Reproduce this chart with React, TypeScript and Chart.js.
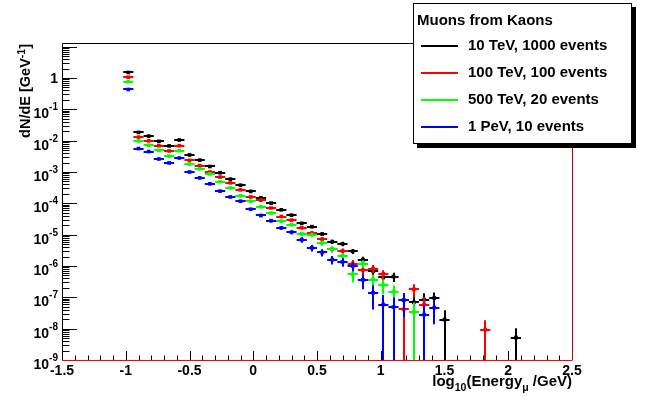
import React, { useEffect, useRef } from "react";
import { Chart, registerables } from "chart.js";

Chart.register(...registerables);

// ---------- data ----------
const binCenters = [
  -0.98, -0.9, -0.82, -0.74, -0.66, -0.58, -0.5, -0.42, -0.34, -0.26,
  -0.18, -0.1, -0.02, 0.06, 0.14, 0.22, 0.3, 0.38, 0.46, 0.54,
  0.62, 0.7, 0.78, 0.86, 0.94, 1.02, 1.1, 1.18, 1.26, 1.34,
  1.42, 1.5, 1.58, 1.66, 1.74, 1.82, 1.9, 1.98, 2.06,
];
const halfBinWidth = 0.04;

const tev10 = [
  1.5, 1.84e-2, 1.4e-2, 9.5e-3, 6.8e-3, 1.05e-2, 3.5e-3, 2.4e-3, 1.5e-3, 9.5e-4,
  5.9e-4, 3.8e-4, 2.4e-4, 1.5e-4, 1.02e-4, 6.2e-5, 4.2e-5, 2.3e-5, 1.8e-5, 1.05e-5,
  6.0e-6, 5.1e-6, 2.95e-6, 1.6e-6, 6.8e-7, 4.3e-7, 4.6e-7, 8.1e-8, 6.9e-8, 8.5e-8,
  9.5e-8, 1.95e-8, null, null, null, null, null, null, 5.2e-9,
];
const tev100 = [
  1.05, 1.3e-2, 9.9e-3, 6.9e-3, 4.7e-3, 6.9e-3, 2.35e-3, 1.6e-3, 1.0e-3, 6.9e-4,
  4.5e-4, 2.7e-4, 1.6e-4, 1.26e-4, 7.1e-5, 3.8e-5, 2.9e-5, 1.66e-5, 1.12e-5, 7.2e-6,
  3.4e-6, 3.0e-6, 1.2e-6, 7.4e-7, 8.3e-7, 5.6e-7, null, 4.1e-8, 1.8e-7, 5.9e-8,
  null, null, null, null, null, 9.3e-9, null, null, null,
];
const tev500 = [
  0.76, 9.8e-3, 7.2e-3, 4.9e-3, 3.2e-3, 4.8e-3, 1.8e-3, 1.26e-3, 8.7e-4, 4.9e-4,
  3.1e-4, 1.74e-4, 1.17e-4, 7.8e-5, 4.9e-5, 2.7e-5, 2.1e-5, 1.07e-5, 1.0e-5, 5.4e-6,
  3.5e-6, 2.1e-6, 5.4e-7, 1.2e-6, 3.7e-7, 2.5e-7, 1.5e-7, null, 3.4e-8, null,
  null, null, null, null, null, null, null, null, null,
];
const pev1 = [
  0.43, 5.6e-3, 4.5e-3, 2.6e-3, 1.95e-3, 2.8e-3, 1.0e-3, 6.5e-4, 4.2e-4, 2.45e-4,
  1.6e-4, 1.17e-4, 6.5e-5, 4.1e-5, 2.8e-5, 1.66e-5, 1.2e-5, 6.9e-6, 3.8e-6, 2.7e-6,
  1.6e-6, 1.35e-6, 1.0e-6, 3.6e-7, 1.4e-7, 5.9e-8, 4.9e-8, 8.1e-8, null, 2.8e-8,
  4.7e-8, null, null, null, null, null, null, null, null,
];

// weight of one entry (log10) at log10(E)=0
const entryWeightLog10At0 = -6.21;

const seriesLabels = [
  "10 TeV, 1000 events",
  "100 TeV, 100 events",
  "500 TeV, 20 events",
  "1 PeV, 10 events",
];
const seriesColors = ["#000000", "#ff0000", "#00ff00", "#0000ff"];
const seriesValues = [tev10, tev100, tev500, pev1];
const legendTitle = "Muons from Kaons";

const xTickValues = [-1.5, -1, -0.5, 0, 0.5, 1, 1.5, 2, 2.5];
const xTickLabels = ["-1.5", "-1", "-0.5", "0", "0.5", "1", "1.5", "2", "2.5"];
const yTickExponents = [0, -1, -2, -3, -4, -5, -6, -7, -8, -9];

const FONT = '"Liberation Sans", Arial, Helvetica, sans-serif';
const f = (s: number) => `bold ${s}px ${FONT}`;

function errorOf(x: number, v: number) {
  const w = Math.pow(10, entryWeightLog10At0 - x);
  const n = Math.max(1, Math.round(v / w));
  return v / Math.sqrt(n);
}

const rootPlugin = {
  id: "rootStyle",
  beforeDraw(chart: any) {
    const { ctx, width, height } = chart;
    ctx.save();
    ctx.fillStyle = "#fff";
    ctx.fillRect(0, 0, width, height);
    ctx.restore();
  },
  beforeDatasetsDraw(chart: any) {
    const { ctx, chartArea: a, scales } = chart;
    const xs = scales.x;
    const ys = scales.y;
    ctx.save();
    ctx.strokeStyle = "#000";
    ctx.lineWidth = 1;
    ctx.beginPath();
    ctx.moveTo(a.left + 0.5, a.bottom + 0.5);
    ctx.lineTo(a.left + 0.5, a.top + 0.5);
    ctx.lineTo(a.right + 0.5, a.top + 0.5);
    ctx.stroke();
    // x ticks (inside, upward)
    ctx.beginPath();
    for (let i = -15; i <= 25; i++) {
      const v = i / 10;
      const px = Math.round(xs.getPixelForValue(v)) + 0.5;
      const len = i % 5 === 0 ? 9 : 4.5;
      ctx.moveTo(px, a.bottom);
      ctx.lineTo(px, a.bottom - len);
    }
    // y ticks (inside, rightward)
    for (let e = -9; e <= 1; e++) {
      for (let m = 1; m <= 9; m++) {
        const v = m * Math.pow(10, e);
        if (v > ys.max * 1.0001 || v < ys.min * 0.9999) continue;
        const py = Math.round(ys.getPixelForValue(v)) + 0.5;
        const len = m === 1 ? 15 : 7.5;
        ctx.moveTo(a.left, py);
        ctx.lineTo(a.left + len, py);
      }
    }
    ctx.stroke();
    ctx.restore();
  },
  beforeDatasetDraw(chart: any, args: any) {
    const { ctx, chartArea: a, scales } = chart;
    const xs = scales.x;
    const ys = scales.y;
    const ds = chart.data.datasets[args.index];
    ctx.save();
    ctx.strokeStyle = ds.borderColor;
    ctx.lineWidth = 2;
    ctx.beginPath();
    for (const p of ds.data) {
      const px = Math.round(xs.getPixelForValue(p.x));
      const py = Math.round(ys.getPixelForValue(p.y));
      const x0 = xs.getPixelForValue(p.x - halfBinWidth);
      const x1 = xs.getPixelForValue(p.x + halfBinWidth);
      ctx.moveTo(x0, py);
      ctx.lineTo(x1, py);
      const err = errorOf(p.x, p.y);
      const hi = ys.getPixelForValue(p.y + err);
      const lowV = p.y - err;
      const lo = lowV > ys.min ? ys.getPixelForValue(lowV) : a.bottom;
      ctx.moveTo(px, Math.max(hi, a.top));
      ctx.lineTo(px, Math.min(lo, a.bottom));
    }
    ctx.stroke();
    ctx.restore();
  },
  afterDatasetsDraw(chart: any) {
    const { ctx, chartArea: a } = chart;
    ctx.save();
    ctx.strokeStyle = "#ff0000";
    ctx.lineWidth = 1;
    ctx.beginPath();
    ctx.moveTo(a.left, a.bottom + 0.5);
    ctx.lineTo(a.right + 0.5, a.bottom + 0.5);
    ctx.stroke();
    ctx.strokeStyle = "#b00000";
    ctx.beginPath();
    ctx.moveTo(a.right + 0.5, a.bottom);
    ctx.lineTo(a.right + 0.5, a.top);
    ctx.stroke();
    ctx.restore();
  },
  afterDraw(chart: any) {
    const { ctx, chartArea: a, scales } = chart;
    const xs = scales.x;
    const ys = scales.y;
    ctx.save();
    ctx.fillStyle = "#000";
    // x tick labels
    ctx.font = f(14);
    ctx.textAlign = "center";
    ctx.textBaseline = "alphabetic";
    xTickValues.forEach((v, i) => {
      ctx.fillText(xTickLabels[i], xs.getPixelForValue(v), a.bottom + 15);
    });
    // y tick labels
    const rightX = a.left - 4;
    yTickExponents.forEach((e) => {
      const py = ys.getPixelForValue(Math.pow(10, e));
      ctx.textAlign = "left";
      if (e === 0) {
        ctx.font = f(14);
        ctx.textBaseline = "middle";
        const w = ctx.measureText("1").width;
        ctx.fillText("1", rightX - w, py + 1);
        return;
      }
      ctx.textBaseline = "alphabetic";
      ctx.font = f(10);
      const sup = String(e);
      const ws = ctx.measureText(sup).width;
      ctx.font = f(14);
      const wb = ctx.measureText("10").width;
      ctx.fillText("10", rightX - ws - wb, py + 9);
      ctx.font = f(10);
      ctx.fillText(sup, rightX - ws, py + 1);
    });
    // x axis title
    const parts: [string, number, number][] = [
      ["log", 15, 0],
      ["10", 10.5, 5],
      ["(Energy", 15, 0],
      ["\u03bc", 10.5, 5],
      [" /GeV)", 15, 0],
    ];
    let total = 0;
    parts.forEach(([t, s]) => {
      ctx.font = f(s);
      total += ctx.measureText(t).width;
    });
    let cx = a.right - total;
    const base = a.bottom + 26;
    ctx.textAlign = "left";
    ctx.textBaseline = "alphabetic";
    parts.forEach(([t, s, dy]) => {
      ctx.font = f(s);
      ctx.fillText(t, cx, base + dy);
      cx += ctx.measureText(t).width;
    });
    // y axis title (rotated)
    ctx.save();
    ctx.translate(25, a.top + 1);
    ctx.rotate(-Math.PI / 2);
    const yparts: [string, number, number][] = [
      ["dN/dE [GeV", 14.5, 0],
      ["-1", 10.5, -5],
      ["]", 14.5, 0],
    ];
    let yt = 0;
    yparts.forEach(([t, s]) => {
      ctx.font = f(s);
      yt += ctx.measureText(t).width;
    });
    let yx = -yt;
    yparts.forEach(([t, s, dy]) => {
      ctx.font = f(s);
      ctx.fillText(t, yx, 5 + dy);
      yx += ctx.measureText(t).width;
    });
    ctx.restore();
    // legend
    const lx = 413, ly = 3, lw = 218, lh = 140;
    ctx.fillStyle = "#000";
    ctx.fillRect(lx + 4, ly + 4, lw + 1, lh + 1);
    ctx.fillStyle = "#fff";
    ctx.fillRect(lx, ly, lw, lh);
    ctx.strokeStyle = "#000";
    ctx.lineWidth = 1;
    ctx.strokeRect(lx + 0.5, ly + 0.5, lw, lh);
    ctx.font = f(15);
    ctx.textBaseline = "middle";
    ctx.textAlign = "left";
    ctx.fillStyle = "#000";
    ctx.fillText(legendTitle, lx + 4, ly + 18);
    seriesLabels.forEach((lab, i) => {
      const yy = ly + 43 + i * 27;
      ctx.strokeStyle = seriesColors[i];
      ctx.lineWidth = 2;
      ctx.beginPath();
      ctx.moveTo(lx + 8, Math.round(yy));
      ctx.lineTo(lx + 45, Math.round(yy));
      ctx.stroke();
      ctx.fillStyle = "#000";
      ctx.fillText(lab, lx + 55, yy);
    });
    ctx.restore();
  },
};

export default function App() {
  const ref = useRef<HTMLCanvasElement | null>(null);
  useEffect(() => {
    if (!ref.current) return;
    const datasets = seriesValues.map((vals, i) => ({
      label: seriesLabels[i],
      data: binCenters
        .map((x, k) => ({ x, y: vals[k] }))
        .filter((p) => p.y !== null && p.y !== undefined) as { x: number; y: number }[],
      borderColor: seriesColors[i],
      backgroundColor: seriesColors[i],
      pointStyle: "rect",
      pointRadius: 2.6,
      pointBorderWidth: 0,
      showLine: false,
      order: 4 - i,
    }));
    const chart = new Chart(ref.current, {
      type: "scatter",
      data: { datasets },
      options: {
        responsive: false,
        animation: false,
        events: [],
        layout: { padding: { top: 43, right: 79, left: 0, bottom: 0 } },
        plugins: { legend: { display: false }, tooltip: { enabled: false } },
        scales: {
          x: {
            type: "linear",
            min: -1.5,
            max: 2.5,
            grid: { display: false },
            border: { display: false },
            ticks: { display: false },
            afterFit: (s: any) => {
              s.height = 36;
            },
          },
          y: {
            type: "logarithmic",
            min: 1e-9,
            max: 13.1,
            grid: { display: false },
            border: { display: false },
            ticks: { display: false },
            afterFit: (s: any) => {
              s.width = 62;
            },
          },
        },
      },
      plugins: [rootPlugin],
    } as any);
    return () => chart.destroy();
  }, []);
  return (
    <canvas
      ref={ref}
      width={651}
      height={396}
      style={{ position: "absolute", left: 0, top: 0, width: 651, height: 396 }}
    />
  );
}
